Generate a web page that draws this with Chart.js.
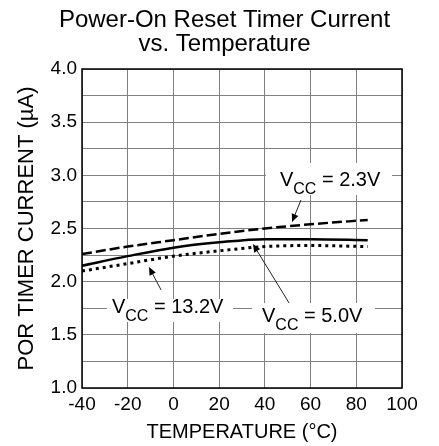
<!DOCTYPE html>
<html>
<head>
<meta charset="utf-8">
<script src="https://cdn.jsdelivr.net/npm/chart.js@4"></script>
<style>
    html, body { margin: 0; padding: 0; background: #fff; }
    #wrap { width: 439px; height: 446px; position: relative; }
</style>
</head>
<body>
<div id="wrap"><canvas id="porChart"></canvas></div>
<script>
// temperatures (°C) and POR timer current (µA)
const temperatures = [-40, -20, 0, 20, 40, 60, 85];
const vcc23 = [2.26, 2.33, 2.39, 2.45, 2.50, 2.54, 2.58];
const vcc50 = [2.15, 2.24, 2.32, 2.37, 2.40, 2.40, 2.39];
const vcc132 = [2.10, 2.17, 2.24, 2.29, 2.33, 2.34, 2.33];

const titleLines = ['Power-On Reset Timer Current', 'vs. Temperature'];
const xTitle = 'TEMPERATURE (°C)';
const yTitle = 'POR TIMER CURRENT (µA)';
const xRange = [-40, 100];
const yRange = [1.0, 4.0];

// callouts, placed in data units: text start, box and arrow (from -> to)
const callouts = [
    { label: '2.3V', at: [46.6, 2.90], box: [40.5, 95.6, 3.116, 2.815], arrow: [55.8, 2.768, 51.9, 2.561] },
    { label: '13.2V', at: [-26.9, 1.705], box: [-29.1, 26.1, 1.837, 1.621], arrow: [-5.4, 1.922, -10.7, 2.138] },
    { label: '5.0V', at: [38.75, 1.621], box: [34.4, 88.2, 1.799, 1.517], arrow: [50.6, 1.799, 34.8, 2.354] }
];

const FONT = '"Liberation Sans", Arial, Helvetica, sans-serif';

function toPoints(values) {
    return temperatures.map((t, i) => ({ x: t, y: values[i] }));
}

const calloutPlugin = {
    id: 'callouts',
    afterDatasetsDraw(chart) {
        const { ctx, chartArea } = chart;
        const x = chart.scales.x;
        const y = chart.scales.y;
        ctx.save();

        // frame round the plot
        ctx.strokeStyle = '#000';
        ctx.lineWidth = 1.5;
        ctx.strokeRect(chartArea.left, chartArea.top, chartArea.width, chartArea.height);

        callouts.forEach(c => {
            const x1 = x.getPixelForValue(c.box[0]);
            const x2 = x.getPixelForValue(c.box[1]);
            const y1 = y.getPixelForValue(c.box[2]);
            const y2 = y.getPixelForValue(c.box[3]);
            ctx.fillStyle = '#fff';
            ctx.fillRect(x1, y1, x2 - x1, y2 - y1);

            // V_CC = ...
            let tx = x.getPixelForValue(c.at[0]);
            const ty = y.getPixelForValue(c.at[1]);
            ctx.fillStyle = '#000';
            ctx.textAlign = 'left';
            ctx.textBaseline = 'alphabetic';
            ctx.font = '20px ' + FONT;
            ctx.fillText('V', tx, ty);
            tx += ctx.measureText('V').width;
            ctx.font = '16px ' + FONT;
            ctx.fillText('CC', tx, ty + 8);
            tx += ctx.measureText('CC').width;
            ctx.font = '20px ' + FONT;
            ctx.fillText(' = ' + c.label, tx, ty);

            // arrow
            const ax1 = x.getPixelForValue(c.arrow[0]);
            const ay1 = y.getPixelForValue(c.arrow[1]);
            const ax2 = x.getPixelForValue(c.arrow[2]);
            const ay2 = y.getPixelForValue(c.arrow[3]);
            const ang = Math.atan2(ay2 - ay1, ax2 - ax1);
            const head = 8;
            ctx.strokeStyle = '#222';
            ctx.lineWidth = 1;
            ctx.beginPath();
            ctx.moveTo(ax1, ay1);
            ctx.lineTo(ax2 - Math.cos(ang) * head * 0.8, ay2 - Math.sin(ang) * head * 0.8);
            ctx.stroke();
            ctx.fillStyle = '#000';
            ctx.beginPath();
            ctx.moveTo(ax2, ay2);
            ctx.lineTo(ax2 - head * Math.cos(ang) + 3.5 * Math.sin(ang), ay2 - head * Math.sin(ang) - 3.5 * Math.cos(ang));
            ctx.lineTo(ax2 - head * Math.cos(ang) - 3.5 * Math.sin(ang), ay2 - head * Math.sin(ang) + 3.5 * Math.cos(ang));
            ctx.closePath();
            ctx.fill();
        });
        ctx.restore();
    }
};

const lineStyle = {
    borderColor: '#000',
    backgroundColor: '#000',
    borderWidth: 2.5,
    pointRadius: 0,
    fill: false,
    cubicInterpolationMode: 'monotone'
};

new Chart(document.getElementById('porChart').getContext('2d'), {
    type: 'line',
    data: {
        datasets: [
            { ...lineStyle, label: 'VCC = 2.3V', data: toPoints(vcc23), borderDash: [10, 4] },
            { ...lineStyle, label: 'VCC = 5.0V', data: toPoints(vcc50) },
            { ...lineStyle, label: 'VCC = 13.2V', data: toPoints(vcc132), borderWidth: 3, borderDash: [3, 4] }
        ]
    },
    options: {
        responsive: true,
        maintainAspectRatio: false,
        animation: false,
        layout: { padding: { left: 10, right: 0, top: 0, bottom: 0 } },
        plugins: {
            legend: { display: false },
            tooltip: { enabled: false },
            title: {
                display: true,
                text: titleLines,
                color: '#000',
                font: { family: FONT, size: 24, weight: 'normal', lineHeight: 1 },
                padding: { top: 8, bottom: 13 }
            }
        },
        scales: {
            x: {
                type: 'linear',
                min: xRange[0],
                max: xRange[1],
                afterFit(s) { s.height = 58; },
                ticks: {
                    stepSize: 20,
                    color: '#000',
                    padding: 5,
                    maxRotation: 0,
                    autoSkip: false,
                    font: { family: FONT, size: 19 }
                },
                grid: { color: '#808080', lineWidth: 1, drawTicks: false },
                border: { display: false },
                title: {
                    display: true,
                    text: xTitle,
                    color: '#000',
                    font: { family: FONT, size: 20 },
                    padding: { top: 0, bottom: 2 }
                }
            },
            y: {
                min: yRange[0],
                max: yRange[1],
                afterFit(s) { s.width = 72; },
                ticks: {
                    stepSize: 0.25,
                    color: '#000',
                    padding: 5,
                    autoSkip: false,
                    font: { family: FONT, size: 19 },
                    callback: v => (Math.abs(v * 2 - Math.round(v * 2)) < 1e-6 ? v.toFixed(1) : '')
                },
                grid: { color: '#808080', lineWidth: 1, drawTicks: false },
                border: { display: false },
                title: {
                    display: true,
                    text: yTitle,
                    color: '#000',
                    font: { family: FONT, size: 22 },
                    padding: { top: 4, bottom: 0 }
                }
            },
            yRight: {
                position: 'right',
                display: true,
                min: yRange[0],
                max: yRange[1],
                afterFit(s) { s.width = 37; },
                ticks: { display: false },
                grid: { display: false, drawTicks: false },
                border: { display: false }
            }
        }
    },
    plugins: [calloutPlugin]
});
</script>
</body>
</html>
